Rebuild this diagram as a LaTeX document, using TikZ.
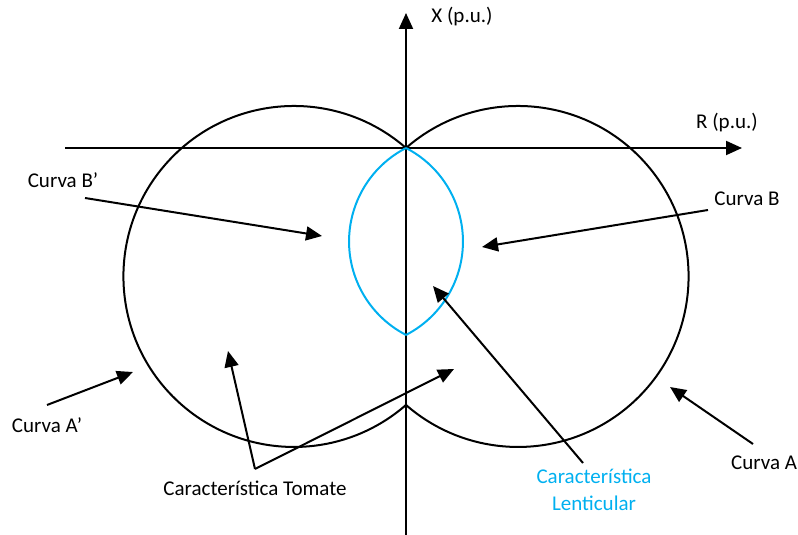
\documentclass[tikz,border=0pt]{standalone}
\usepackage{fontspec}
\setmainfont{Carlito}
\usetikzlibrary{arrows.meta}
\definecolor{lensblue}{RGB}{0,176,240}
\begin{document}
\begin{tikzpicture}[x=1pt,y=1pt,
  line/.style={line width=2pt,black},
  arr/.style={line width=2pt,-{Triangle[length=16pt,width=14pt]}},
  lab/.style={font=\fontsize{21}{25}\selectfont,inner sep=0pt,align=center},
  lens/.style={line width=2pt,lensblue}]
\useasboundingbox (0,0) rectangle (798,535);
% axes
\coordinate (vb) at (406,0);
\coordinate (vt) at (406,522);
\coordinate (hl) at (65,387);
\coordinate (hr) at (742,387);
\coordinate (O) at (406,387);
\coordinate (L) at (406,200);
\draw[arr] (vb) -- (vt);
\draw[arr] (hl) -- (hr);
\node[lab] (xl) at (462,518) {X (p.u.)};
\node[lab] (rl) at (727,412) {R (p.u.)};
% tomato curves
\draw[line] (O) arc[start angle=131.1, end angle=-131.1, radius=170.5];
\draw[line] (O) arc[start angle=48.9, end angle=311.1, radius=170.5];
% lenticular
\draw[lens] (O) arc[start angle=62.7, end angle=-62.7, radius=105.2];
\draw[lens] (O) arc[start angle=117.3, end angle=242.7, radius=105.2];
% labels
\node[lab] (cbp) at (63,355) {Curva B’};
\node[lab] (cb) at (747,336) {Curva B};
\node[lab] (cap) at (47,110) {Curva A’};
\node[lab] (ca) at (764,72) {Curva A};
\node[lab] (tom) at (255,47) {Característica Tomate};
\node[lab,text=lensblue] (len) at (594,45.5) {Característica\\[2pt]Lenticular};
% arrows
\coordinate (bps) at (85,337);  \coordinate (bpe) at (322,299);
\coordinate (bs) at (708,325);  \coordinate (be) at (482,288);
\coordinate (ls) at (583,72);   \coordinate (le) at (433,249);
\coordinate (tv) at (255,66);
\coordinate (te1) at (228,184); \coordinate (te2) at (454,166);
\coordinate (aps) at (47,130);  \coordinate (ape) at (133,163);
\coordinate (as) at (753,91);   \coordinate (ae) at (670,148);
\draw[arr] (bps) -- (bpe);
\draw[arr] (bs) -- (be);
\draw[arr] (ls) -- (le);
\draw[arr] (tv) -- (te1);
\draw[arr] (tv) -- (te2);
\draw[arr] (aps) -- (ape);
\draw[arr] (as) -- (ae);
\end{tikzpicture}
\end{document}
